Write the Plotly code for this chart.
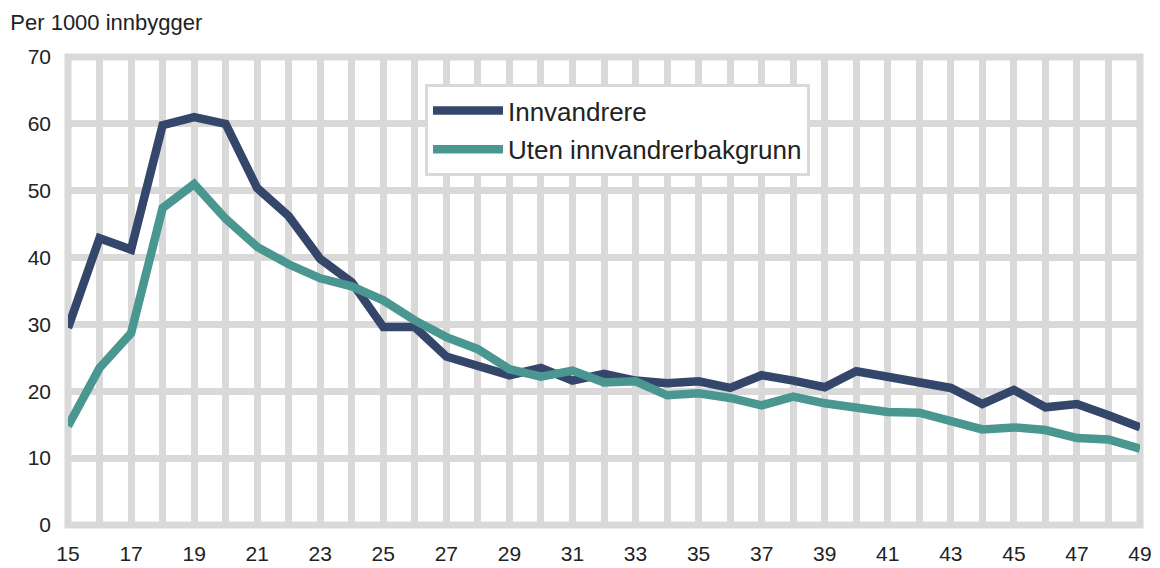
import plotly.graph_objects as go

# Alder 15-49
alder = list(range(15, 50))

innvandrere = [29.5, 42.9, 41.2, 59.8, 61.0, 60.0, 50.4, 46.2, 39.8, 36.3,
               29.6, 29.6, 25.2, 23.9, 22.4, 23.5, 21.6, 22.6, 21.6, 21.2,
               21.5, 20.5, 22.4, 21.6, 20.6, 23.0, 22.1, 21.5, 20.5, 18.1,
               20.2, 17.6, 18.1, 16.4, 14.6]

uten_bakgrunn = [14.8, 23.5, 28.7, 47.4, 51.0, 45.8, 41.6, 39.0, 36.9, 35.7,
                 33.6, 30.6, 28.1, 26.3, 23.3, 22.2, 23.1, 21.3, 21.5, 19.4,
                 19.7, 19.0, 17.9, 19.2, 18.2, 17.5, 16.9, 16.8, 15.7, 14.3,
                 14.6, 14.2, 13.0, 12.8, 11.4]

GRID = "#d9d9d9"
FONT = "Liberation Sans, Arial, sans-serif"

fig = go.Figure()
fig.add_trace(go.Scatter(x=alder, y=innvandrere, mode="lines", name="Innvandrere",
                         legendgroup="a", line=dict(color="#34476b", width=8.5)))
fig.add_trace(go.Scatter(x=alder, y=uten_bakgrunn, mode="lines", name="Uten innvandrerbakgrunn",
                         legendgroup="b", line=dict(color="#4a9690", width=8.5)))

# ramme rundt plottet (samme stil som rutenettet)
fig.add_shape(type="rect", xref="paper", yref="paper", x0=0, x1=1, y0=0, y1=1,
              line=dict(color=GRID, width=7), layer="below")

# siden har 8px body-marg oppe/til venstre
fig.update_layout(
    width=1152, height=560,
    margin=dict(l=60, r=20, t=49, b=43),
    paper_bgcolor="white", plot_bgcolor="rgba(0,0,0,0)",
    font=dict(family=FONT, size=21, color="#222222"),
    title=dict(text="Per 1000 innbygger", x=0.002, xanchor="left",
               y=0.975, yanchor="middle", font=dict(size=22, color="#222222")),
    legend=dict(x=0.333, y=0.942, xanchor="left", yanchor="top",
                bgcolor="white", bordercolor=GRID, borderwidth=3,
                font=dict(size=26), itemwidth=70, tracegroupgap=2),
    showlegend=True,
)

fig.update_xaxes(
    range=[15, 49], tickmode="linear", tick0=15, dtick=2,
    showgrid=True, gridcolor=GRID, gridwidth=7,
    minor=dict(dtick=1, tick0=15, showgrid=True, gridcolor=GRID, gridwidth=7),
    zeroline=False, showline=False, ticks="", ticklabelstandoff=14,
    automargin=False,
)
fig.update_yaxes(
    range=[0, 70], tickmode="linear", tick0=0, dtick=10,
    showgrid=True, gridcolor=GRID, gridwidth=7,
    zeroline=False, showline=False, ticks="", ticklabelstandoff=16,
    automargin=False,
)

fig.write_html("out.html")
